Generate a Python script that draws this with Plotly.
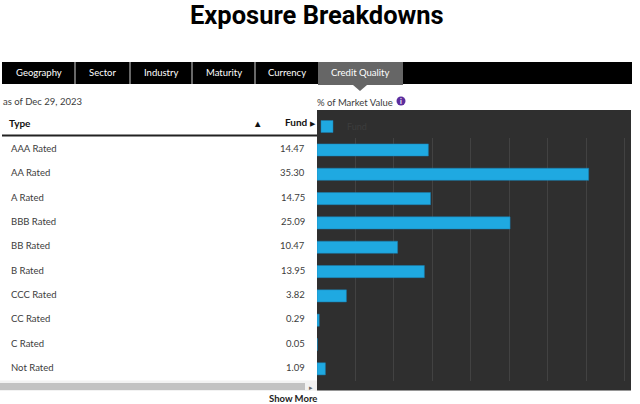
import plotly.graph_objects as go

W, H = 640, 404
types = ["AAA Rated", "AA Rated", "A Rated", "BBB Rated", "BB Rated", "B Rated",
         "CCC Rated", "CC Rated", "C Rated", "Not Rated"]
fund = [14.47, 35.30, 14.75, 25.09, 10.47, 13.95, 3.82, 0.29, 0.05, 1.09]
tabs = ["Geography", "Sector", "Industry", "Maturity", "Currency", "Credit Quality"]
tab_edges = [2, 75, 130, 192, 255, 318, 403]

PANEL = "#2f2f2f"
FONT = "Lato, 'Open Sans', sans-serif"

def px(x): return x / W
def py(y): return 1 - y / H

fig = go.Figure(go.Bar(
    x=fund, y=types, orientation="h", name="Fund",
    marker=dict(color="#1fa9e1", line=dict(color="#1b7fb0", width=0.5)),
    width=0.5, hoverinfo="skip", showlegend=True,
))

shapes = [
    dict(type="rect", xref="paper", yref="paper", x0=px(317), x1=px(631), y0=py(390.5), y1=py(110),
         fillcolor=PANEL, line=dict(width=0), layer="below"),
    dict(type="rect", xref="paper", yref="paper", x0=px(2), x1=px(632), y0=py(84), y1=py(62),
         fillcolor="#000000", line=dict(width=0), layer="below"),
    dict(type="rect", xref="paper", yref="paper", x0=px(318), x1=px(403), y0=py(85), y1=py(62),
         fillcolor="#666666", line=dict(width=0), layer="below"),
    dict(type="path", xref="paper", yref="paper",
         path=f"M {px(353)} {py(85)} L {px(367)} {py(85)} L {px(360)} {py(91)} Z",
         fillcolor="#666666", line=dict(width=0), layer="below"),
    dict(type="line", xref="paper", yref="paper", x0=px(2), x1=px(317), y0=py(135.5), y1=py(135.5),
         line=dict(color="#222222", width=2)),
    dict(type="rect", xref="paper", yref="paper", x0=px(0), x1=px(317), y0=py(391), y1=py(380.5),
         fillcolor="#f2f2f2", line=dict(width=0), layer="below"),
    dict(type="rect", xref="paper", yref="paper", x0=px(0), x1=px(305), y0=py(390), y1=py(383),
         fillcolor="#c2c2c2", line=dict(width=0), layer="below"),
    dict(type="circle", xref="paper", yref="paper", x0=px(396.5), x1=px(405.5), y0=py(105.5), y1=py(96.5),
         fillcolor="#5b2d9e", line=dict(width=0), layer="below"),
]
for e in tab_edges[1:5]:
    shapes.append(dict(type="line", xref="paper", yref="paper", x0=px(e), x1=px(e), y0=py(84), y1=py(62),
                       line=dict(color="#d0d0d0", width=1)))

ann = []
def text(x, y, s, size=9.5, color="#3c3c3c", anchor="left", family=FONT, bold=False):
    ann.append(dict(xref="paper", yref="paper", x=px(x), y=py(y), text=f"<b>{s}</b>" if bold else s,
                    showarrow=False, xanchor=anchor, yanchor="middle",
                    font=dict(size=size, color=color, family=family),
                    borderpad=0))

text(317, 15, "Exposure Breakdowns", size=25.5, color="#000000", anchor="center", family="Roboto, sans-serif", bold=True)
for i, t in enumerate(tabs):
    text((tab_edges[i] + tab_edges[i + 1]) / 2, 72.5, t, color="#ffffff", anchor="center")
text(2, 101.5, "as of Dec 29, 2023")
text(316, 102.5, "% of Market Value")
text(401, 101, "<b>i</b>", size=7, color="#ffffff", anchor="center")
text(8, 123, "Type", size=10, color="#111111", bold=True)
text(257, 123, "▲", size=9.5, color="#111111", anchor="center")
text(309, 122.5, "Fund", size=10, color="#111111", anchor="right", bold=True)
text(313, 123, "▶", size=7, color="#111111", anchor="center")
text(311, 386.5, "▸", size=7, color="#666666", anchor="center")
text(292.5, 398, "Show More", size=9.5, color="#222222", anchor="center", bold=True)

row0, step = 148.5, 24.35
for i, (t, v) in enumerate(zip(types, fund)):
    y = row0 + i * step
    text(10, y, t)
    text(306, y, f"{v:.2f}", anchor="right")

fig.update_layout(
    width=W, height=H, margin=dict(l=0, r=0, t=0, b=0),
    paper_bgcolor="#ffffff", plot_bgcolor="rgba(0,0,0,0)",
    bargap=0.5, shapes=shapes, annotations=ann,
    xaxis=dict(domain=[px(317), px(631)], range=[0, 40.8], dtick=5, showgrid=True,
               gridcolor="#424242", gridwidth=1, zeroline=False, showticklabels=False,
               ticks="", showline=False, fixedrange=True),
    yaxis=dict(domain=[py(381), py(137.8)], autorange="reversed", showticklabels=False,
               showgrid=False, ticks="", showline=False, fixedrange=True),
    legend=dict(x=px(307), y=py(126.5), xanchor="left", yanchor="middle", bgcolor="rgba(0,0,0,0)",
                font=dict(size=9, color="#3d3d3d", family=FONT), itemclick=False, itemdoubleclick=False),
    font=dict(family=FONT),
)
fig.write_html("out.html", config=dict(displayModeBar=False),
               post_script="document.body.style.margin='0';")
